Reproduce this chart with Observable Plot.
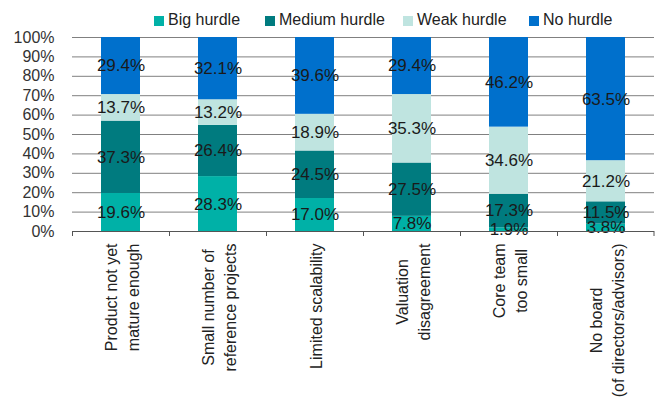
<!DOCTYPE html>
<html>
<head>
<meta charset="utf-8">
<script src="https://cdn.jsdelivr.net/npm/d3@7"></script>
<script src="https://cdn.jsdelivr.net/npm/@observablehq/plot@0.6"></script>
<style>
  html, body { margin: 0; padding: 0; background: #fff; }
  body { width: 655px; height: 401px; overflow: hidden; font-family: "Liberation Sans", Arial, sans-serif; }
  #legend { position: relative; height: 30px; width: 655px; }
  .item { position: absolute; top: 11px; font-size: 16px; color: #222; line-height: 18px; white-space: nowrap; }
  .sw { position: absolute; left: 0; top: 5px; width: 10px; height: 10px; }
  .lb { position: absolute; left: 14px; top: 0; }
</style>
</head>
<body>
<div id="legend"></div>
<div id="chart"></div>
<script>
const categories = [
  "Product not yet\nmature enough",
  "Small number of\nreference projects",
  "Limited scalability",
  "Valuation\ndisagreement",
  "Core team\ntoo small",
  "No board\n(of directors/advisors)"
];
const hurdles = ["Big hurdle", "Medium hurdle", "Weak hurdle", "No hurdle"];
const colors = ["#00b1a7", "#007b7f", "#bfe4e0", "#0070cc"];
const bigHurdle    = [19.6, 28.3, 17.0, 7.8, 1.9, 3.8];
const mediumHurdle = [37.3, 26.4, 24.5, 27.5, 17.3, 11.5];
const weakHurdle   = [13.7, 13.2, 18.9, 35.3, 34.6, 21.2];
const noHurdle     = [29.4, 32.1, 39.6, 29.4, 46.2, 63.5];
const yTicks = [0, 10, 20, 30, 40, 50, 60, 70, 80, 90, 100];

const series = [bigHurdle, mediumHurdle, weakHurdle, noHurdle];
const data = [];
hurdles.forEach((h, hi) => {
  categories.forEach((c, ci) => {
    data.push({category: c, hurdle: h, value: series[hi][ci]});
  });
});

// legend
const legendLefts = [154, 265, 403, 529];
const legend = document.getElementById("legend");
hurdles.forEach((h, i) => {
  const it = document.createElement("div");
  it.className = "item";
  it.style.left = legendLefts[i] + "px";
  it.innerHTML = `<span class="sw" style="background:${colors[i]}"></span><span class="lb">${h}</span>`;
  legend.appendChild(it);
});

const FONT = "'Liberation Sans', Arial, sans-serif";
const W = 655, H = 371, mL = 72, mR = 1, mT = 7, mB = 170;
const bw = (W - mL - mR) / categories.length;

// measure the longest line of each category label (labels are centred lines)
const ctx = document.createElement("canvas").getContext("2d");
ctx.font = "16px 'Liberation Sans'";
const labelWidth = c => Math.max(...c.split("\n").map(s => ctx.measureText(s).width));

const labelMarks = categories.map(c =>
  Plot.text([c], {
    x: d => d,
    text: d => d,
    frameAnchor: "bottom",
    dy: 12 + labelWidth(c) / 2,
    rotate: -90,
    textAnchor: "middle",
    lineAnchor: "middle",
    lineHeight: 1.4,
    fontSize: 16,
    fill: "#222"
  })
);

const chart = Plot.plot({
  width: W,
  height: H,
  marginLeft: mL,
  marginRight: mR,
  marginTop: mT,
  marginBottom: mB,
  style: {fontFamily: FONT, background: "#fff"},
  x: {domain: categories, padding: 0, axis: null},
  y: {domain: [0, 100], axis: null},
  color: {domain: hurdles, range: colors},
  marks: [
    Plot.gridY(yTicks, {stroke: "#808080", strokeOpacity: 1, strokeWidth: 1}),
    Plot.axisY(yTicks, {tickSize: 0, tickPadding: 18, tickFormat: d => d + "%", fontSize: 16, fill: "#333", label: null}),
    Plot.barY(data, {x: "category", y: "value", fill: "hurdle", order: hurdles, insetLeft: 29, insetRight: 29}),
    Plot.text(data, Plot.stackY({x: "category", y: "value", z: "hurdle", order: hurdles, text: d => d.value.toFixed(1) + "%", fontSize: 17, fill: "#1a1a1a"})),
    Plot.ruleY([0], {stroke: "#555"}),
    Plot.ruleX(categories, {x: d => d, y1: 0, y2: 0, insetBottom: -5, dx: -bw / 2, stroke: "#555"}),
    Plot.ruleX(categories.slice(-1), {x: d => d, y1: 0, y2: 0, insetBottom: -5, dx: bw / 2 - 0.5, stroke: "#555"}),
    ...labelMarks
  ]
});
document.getElementById("chart").appendChild(chart);
</script>
</body>
</html>
